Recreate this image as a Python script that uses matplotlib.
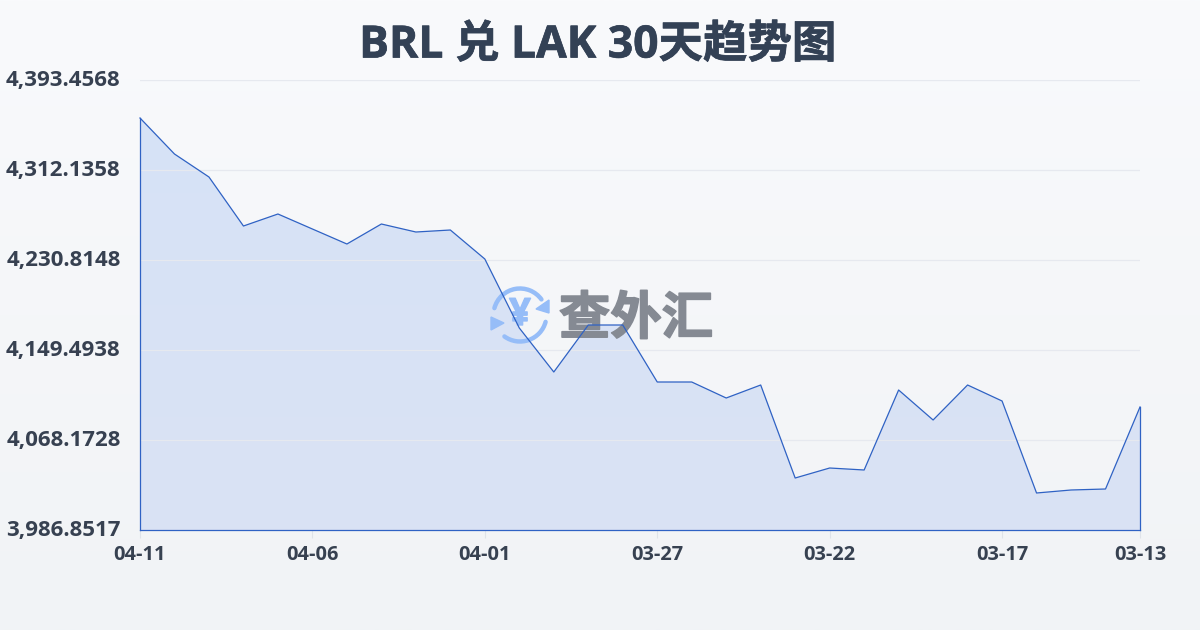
import numpy as np
import matplotlib
matplotlib.use("Agg")
import matplotlib.pyplot as plt
import matplotlib.patheffects as pe
from matplotlib.colors import LinearSegmentedColormap
from matplotlib.patches import Polygon, Arc
from matplotlib.transforms import ScaledTranslation

plt.rcParams['font.family'] = ['Open Sans', 'Noto Sans CJK SC', 'DejaVu Sans']

title = "BRL 兑 LAK 30天趋势图"
rates = [4359.12, 4326.59, 4305.81, 4261.53, 4272.38, 4258.82, 4245.27, 4263.34, 4256.11, 4257.92,
         4231.72, 4169.37, 4129.62, 4172.08, 4172.08, 4120.58, 4120.58, 4106.12, 4117.87, 4033.83,
         4042.87, 4041.07, 4113.35, 4086.25, 4117.87, 4103.41, 4020.29, 4023.00, 4023.90, 4097.99]
y_ticks = [3986.8517, 4068.1728, 4149.4938, 4230.8148, 4312.1358, 4393.4568]
x_tick_pos = [0, 5, 10, 15, 20, 25, 29]
x_tick_labels = ["04-11", "04-06", "04-01", "03-27", "03-22", "03-17", "03-13"]

W, H = 1200, 630
fig = plt.figure(figsize=(W / 100, H / 100), dpi=100)

# page background gradient
bg = fig.add_axes([0, 0, 1, 1], zorder=0)
bg.axis("off")
bg_cmap = LinearSegmentedColormap.from_list("bg", ["#f9fafc", "#f1f3f6"])
bg.imshow(np.linspace(0, 1, 256)[:, None], aspect="auto", cmap=bg_cmap, extent=[0, 1, 0, 1])

rect = [140 / W, 1 - 530 / H, 1000 / W, 450 / H]
ax = fig.add_axes(rect, zorder=1)
ax.patch.set_alpha(0)
x = np.arange(len(rates))
ax.set_xlim(0, len(rates) - 1)
ax.set_ylim(y_ticks[0], y_ticks[-1])

# area fill with vertical gradient, clipped to the area under the line
verts = list(zip(x, rates)) + [(x[-1], y_ticks[0]), (x[0], y_ticks[0])]
clip = Polygon(verts, closed=True, transform=ax.transData, facecolor="none", edgecolor="none")
ax.add_patch(clip)
fill_cmap = LinearSegmentedColormap.from_list("fill", ["#d6e3f7", "#dae2f4"])
im = ax.imshow(np.linspace(0, 1, 256)[:, None], aspect="auto", cmap=fill_cmap,
               extent=[x[0], x[-1], y_ticks[0], y_ticks[-1]], zorder=2, origin="upper")
im.set_clip_path(clip)

ax.set_yticks(y_ticks)
ax.set_yticklabels([f"{v:,.4f}" for v in y_ticks])
ax.set_xticks(x_tick_pos)
ax.set_xticklabels(x_tick_labels)
ax.grid(axis="y", color="#e6e9ef", lw=0.9)
ax.set_axisbelow(False)
for gl in ax.get_ygridlines():
    gl.set_zorder(3)
for s in ax.spines.values():
    s.set_visible(False)
ax.tick_params(axis="y", length=0, pad=14)
ax.tick_params(axis="x", length=6, width=0.8, color="#dfe3e9", pad=5)
up = ScaledTranslation(0, 2 / 100, fig.dpi_scale_trans)
for t in ax.get_yticklabels():
    t.set_fontsize(16)
    t.set_fontweight("bold")
    t.set_color("#374151")
    t.set_transform(t.get_transform() + up)
for t in ax.get_xticklabels():
    t.set_fontsize(14.4)
    t.set_fontweight("bold")
    t.set_color("#374151")

fig.text(598 / W, 1 - 46 / H, title, ha="center", va="center", fontsize=32,
         fontweight="bold", color="#334155", zorder=10,
         path_effects=[pe.withStroke(linewidth=0.5, foreground="#334155")])

# watermark, pixel coordinates, above the fill and below the line
ov = fig.add_axes([0, 0, 1, 1], zorder=2)
ov.axis("off")
ov.patch.set_alpha(0)
ov.set_xlim(0, W)
ov.set_ylim(H, 0)
c = "#96bdf8"
cx, cy = 520, 315
ov.add_patch(Arc((cx, cy), 53, 53, theta1=195, theta2=324, color=c, lw=3.2, capstyle="round"))
ov.add_patch(Arc((cx, cy), 53, 53, theta1=15, theta2=126, color=c, lw=3.2, capstyle="round"))
ov.add_patch(Polygon([(549, 300), (549, 313), (536, 309)], closed=True, color=c))
ov.add_patch(Polygon([(491, 317), (491, 330), (504, 323)], closed=True, color=c))
ov.text(cx, cy, "¥", ha="center", va="center", fontsize=27, fontweight="bold", color=c,
        path_effects=[pe.withStroke(linewidth=1.0, foreground=c)])
ov.text(636, 321, "查外汇", ha="center", va="center", fontsize=37, fontweight="bold",
        color="#858a93", path_effects=[pe.withStroke(linewidth=1.2, foreground="#858a93")])

# line and outline on top of the watermark
top = fig.add_axes(rect, zorder=3)
top.axis("off")
top.patch.set_alpha(0)
top.set_xlim(ax.get_xlim())
top.set_ylim(ax.get_ylim())
line_color = "#2f62c4"
top.plot(x, rates, color=line_color, lw=0.9, solid_joinstyle="round", clip_on=False)
top.plot([x[0], x[0]], [y_ticks[0], rates[0]], color=line_color, lw=0.9, clip_on=False)
top.plot([x[-1], x[-1]], [y_ticks[0], rates[-1]], color=line_color, lw=0.9, clip_on=False)
top.plot([x[0], x[-1]], [y_ticks[0], y_ticks[0]], color=line_color, lw=0.9, clip_on=False)

fig.savefig("out.png", dpi=100)
